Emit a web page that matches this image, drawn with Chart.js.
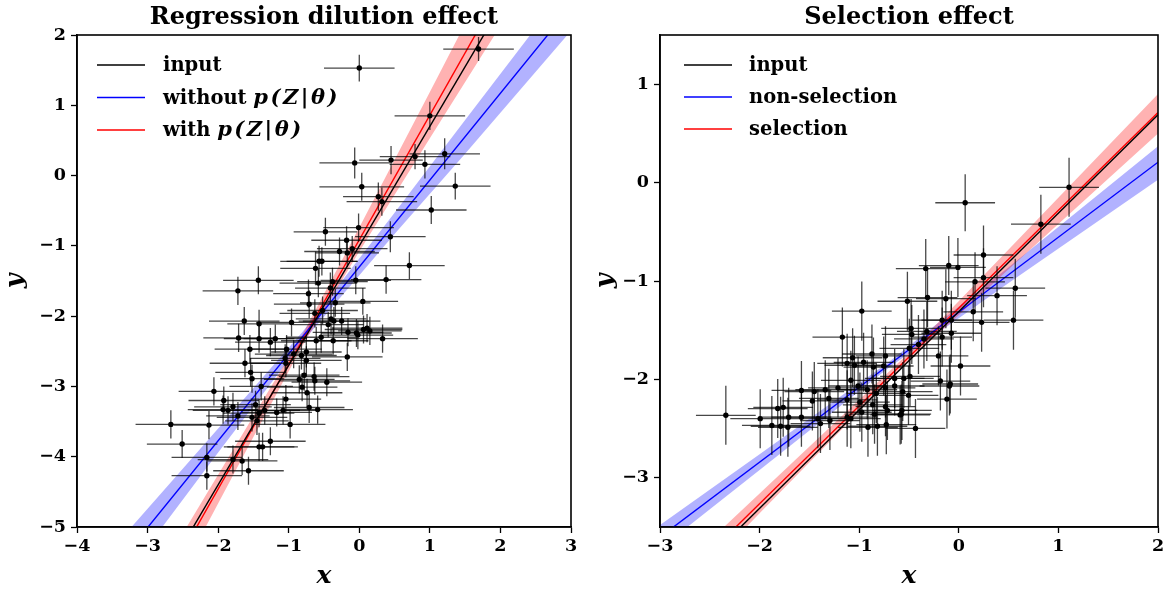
<!DOCTYPE html>
<html><head><meta charset="utf-8">
<script src="https://cdn.jsdelivr.net/npm/chart.js@4/dist/chart.umd.min.js"></script>
<style>
html,body{margin:0;padding:0;background:#fff;}
#wrap{position:relative;width:1168px;height:592px;overflow:hidden;}
canvas{position:absolute;top:0;}
</style></head>
<body><div id="wrap"><canvas id="c1" width="590" height="592" style="left:0"></canvas><canvas id="c2" width="578" height="592" style="left:590px"></canvas></div>
<script>
// ---------- Left panel: Regression dilution effect ----------
const leftTitle = 'Regression dilution effect';
const leftXTicks = [-4, -3, -2, -1, 0, 1, 2, 3];
const leftYTicks = [-5, -4, -3, -2, -1, 0, 1, 2];
const leftX = [1.69, 0.00, 1.00, -0.065, 0.45, 0.79, 0.93, 1.21, 0.035, 0.27,
  0.32, 1.36, 1.02, -0.48, -0.01, 0.44, -0.18, -0.10, -0.28, -0.17,
  -0.53, -0.57, -0.62, 0.71, 0.38, -1.43, -1.72, -0.38, -0.58, -0.41,
  -0.72, -0.05, -0.71, 0.05, -0.34, -0.63, -0.52, -1.63, -1.42, -0.96,
  -0.40, -0.36, -0.25, -0.44, -0.16, -0.04, 0.06, 0.11, 0.15, -1.71,
  -1.42, -1.26, -1.19, -0.54, -0.61, -0.37, -0.02, 0.33, -1.55, -1.03,
  -0.93, -0.75, -1.05, -0.82, -0.17, -1.62, -1.04, -0.75, -1.54, -1.52,
  -0.78, -0.64, -0.85, -0.63, -0.46, -2.06, -1.39, -0.81, -0.74, -1.92,
  -1.04, -1.93, -1.79, -1.47, -0.71, -0.59, -1.86, -1.72, -1.52, -1.42,
  -1.34, -1.17, -1.08, -1.45, -0.98, -2.67, -2.13, -2.51, -1.26, -1.42,
  -1.37, -2.16, -1.79, -1.66, -2.16, -1.57];
const leftY = [1.80, 1.53, 0.85, 0.18, 0.22, 0.27, 0.16, 0.31, -0.16, -0.30,
  -0.37, -0.15, -0.49, -0.80, -0.74, -0.87, -0.92, -1.04, -1.08, -1.10,
  -1.22, -1.22, -1.32, -1.28, -1.48, -1.49, -1.64, -1.51, -1.53, -1.60,
  -1.68, -1.49, -1.83, -1.79, -1.81, -1.96, -1.92, -2.07, -2.11, -2.09,
  -2.04, -2.07, -2.07, -2.12, -2.23, -2.24, -2.19, -2.17, -2.21, -2.31,
  -2.32, -2.37, -2.32, -2.30, -2.35, -2.35, -2.27, -2.32, -2.47, -2.47,
  -2.54, -2.51, -2.60, -2.56, -2.58, -2.67, -2.67, -2.63, -2.80, -2.89,
  -2.84, -2.86, -2.90, -2.92, -2.94, -3.07, -3.00, -3.01, -3.09, -3.20,
  -3.18, -3.33, -3.29, -3.26, -3.30, -3.33, -3.34, -3.42, -3.44, -3.38,
  -3.34, -3.37, -3.34, -3.49, -3.54, -3.54, -3.55, -3.82, -3.78, -3.86,
  -3.86, -4.01, -4.04, -4.06, -4.27, -4.20];
const leftXerr = [0.50, 0.50, 0.50, 0.50, 0.45, 0.50, 0.50, 0.50, 0.60, 0.50,
  0.50, 0.50, 0.50, 0.45, 0.50, 0.50, 0.50, 0.50, 0.50, 0.45,
  0.50, 0.55, 0.50, 0.50, 0.50, 0.50, 0.50, 0.50, 0.55, 0.50,
  0.50, 0.50, 0.50, 0.50, 0.50, 0.50, 0.50, 0.50, 0.45, 0.50,
  0.50, 0.50, 0.55, 0.50, 0.50, 0.50, 0.55, 0.50, 0.45, 0.50,
  0.50, 0.50, 0.45, 0.50, 0.50, 0.50, 0.50, 0.50, 0.50, 0.50,
  0.55, 0.50, 0.50, 0.50, 0.50, 0.50, 0.50, 0.50, 0.50, 0.45,
  0.50, 0.50, 0.50, 0.50, 0.50, 0.50, 0.45, 0.50, 0.50, 0.50,
  0.50, 0.50, 0.55, 0.50, 0.50, 0.50, 0.50, 0.45, 0.50, 0.50,
  0.50, 0.50, 0.50, 0.45, 0.50, 0.50, 0.50, 0.50, 0.50, 0.50,
  0.50, 0.50, 0.50, 0.50, 0.50, 0.50];
const leftYerr = [0.17, 0.19, 0.20, 0.22, 0.20, 0.18, 0.20, 0.22, 0.20, 0.20,
  0.20, 0.19, 0.20, 0.20, 0.20, 0.22, 0.20, 0.18, 0.20, 0.20,
  0.20, 0.22, 0.24, 0.19, 0.20, 0.20, 0.20, 0.20, 0.20, 0.22,
  0.20, 0.20, 0.20, 0.19, 0.20, 0.20, 0.20, 0.20, 0.20, 0.20,
  0.22, 0.20, 0.20, 0.18, 0.20, 0.20, 0.20, 0.20, 0.20, 0.20,
  0.20, 0.20, 0.20, 0.22, 0.20, 0.20, 0.20, 0.20, 0.20, 0.20,
  0.20, 0.22, 0.20, 0.20, 0.20, 0.20, 0.20, 0.20, 0.20, 0.20,
  0.22, 0.20, 0.20, 0.20, 0.20, 0.20, 0.20, 0.20, 0.20, 0.20,
  0.20, 0.20, 0.20, 0.20, 0.22, 0.20, 0.20, 0.20, 0.20, 0.20,
  0.20, 0.20, 0.20, 0.20, 0.20, 0.20, 0.20, 0.20, 0.20, 0.20,
  0.20, 0.20, 0.20, 0.20, 0.20, 0.20];
const leftLineX = [-4, 3];
const leftInputY = [-7.80, 4.10];
const leftWithoutY = [-6.244, 2.408];
const leftWithY = [-8.005, 4.406];
const leftRedBandX = [-3, -2.5, -1.5, -0.8, 0, 1, 2, 3];
const leftRedBandLow = [-6.55, -5.61, -3.72, -2.41, -1.08, 0.53, 2.13, 3.75];
const leftRedBandHigh = [-5.91, -5.09, -3.42, -2.25, -0.74, 1.19, 3.13, 5.07];
const leftBlueBandX = [-4, -3, -2, -0.8, 0.5, 1.5, 3];
const leftBlueBandLow = [-6.60, -5.28, -3.94, -2.36, -0.83, 0.31, 2.06];
const leftBlueBandHigh = [-5.88, -4.74, -3.60, -2.22, -0.53, 0.79, 2.76];
const leftLegend = [
  {color: '#000000', parts: [['input', false]]},
  {color: '#0000ff', parts: [['without ', false], ['p(Z|θ)', true]]},
  {color: '#ff0000', parts: [['with ', false], ['p(Z|θ)', true]]}
];

// ---------- Right panel: Selection effect ----------
const rightTitle = 'Selection effect';
const rightXTicks = [-3, -2, -1, 0, 1, 2];
const rightYTicks = [-3, -2, -1, 0, 1];
const rightX = [1.107, 0.064, 0.824, -0.332, -0.101, -0.009, 0.248, 0.248, 0.163, 0.567,
  0.384, -0.974, -0.516, -0.314, -0.130, 0.145, 0.229, 0.549, -0.167, -0.075,
  -0.479, -0.472, -0.321, -0.405, -0.350, -0.167, -0.075, -1.169, -0.204, 0.017,
  -0.497, -1.066, -0.872, -0.736, -1.121, -1.048, -0.956, -0.857, -0.754, -0.644,
  -0.552, -0.185, -0.094, -0.086, -1.580, -1.451, -1.341, -1.213, -1.084, -1.011,
  -0.919, -0.828, -0.736, -0.644, -0.563, -0.505, -0.119, -1.470, -1.305, -1.121,
  -0.993, -0.864, -0.736, -0.571, -1.818, -1.763, -2.339, -1.994, -1.708, -1.580,
  -1.415, -1.294, -1.121, -0.974, -0.846, -0.717, -0.589, -1.877, -1.789, -1.716,
  -1.389, -1.084, -0.912, -0.817, -0.728, -0.435, -0.578, -0.490];
const rightY = [-0.048, -0.205, -0.423, -0.874, -0.843, -0.862, -0.736, -0.966, -1.008, -1.073,
  -1.149, -1.306, -1.206, -1.168, -1.180, -1.313, -1.420, -1.398, -1.398, -1.398,
  -1.482, -1.543, -1.512, -1.646, -1.589, -1.570, -1.531, -1.570, -1.761, -1.864,
  -1.684, -1.780, -1.742, -1.761, -1.837, -1.856, -1.826, -1.875, -1.864, -1.990,
  -1.990, -2.017, -2.067, -2.047, -2.112, -2.124, -2.105, -2.086, -2.009, -2.067,
  -2.105, -2.143, -2.086, -2.067, -2.124, -2.162, -2.200, -2.219, -2.193, -2.208,
  -2.231, -2.258, -2.277, -2.315, -2.296, -2.284, -2.365, -2.399, -2.384, -2.384,
  -2.399, -2.418, -2.384, -2.334, -2.353, -2.315, -2.361, -2.468, -2.476, -2.487,
  -2.449, -2.399, -2.487, -2.476, -2.460, -2.498, -2.353, -1.970];
const rightXerr = [0.30, 0.30, 0.30, 0.30, 0.30, 0.28, 0.30, 0.30, 0.30, 0.30,
  0.30, 0.30, 0.30, 0.30, 0.30, 0.30, 0.28, 0.30, 0.30, 0.30,
  0.30, 0.30, 0.30, 0.28, 0.30, 0.30, 0.30, 0.30, 0.30, 0.30,
  0.30, 0.30, 0.30, 0.30, 0.30, 0.30, 0.30, 0.30, 0.30, 0.30,
  0.30, 0.30, 0.30, 0.28, 0.30, 0.30, 0.30, 0.30, 0.30, 0.30,
  0.30, 0.30, 0.30, 0.30, 0.30, 0.30, 0.30, 0.30, 0.30, 0.30,
  0.30, 0.30, 0.30, 0.30, 0.30, 0.30, 0.30, 0.30, 0.30, 0.30,
  0.30, 0.30, 0.30, 0.30, 0.30, 0.30, 0.30, 0.30, 0.30, 0.30,
  0.30, 0.30, 0.30, 0.30, 0.30, 0.30, 0.30, 0.30];
const rightYerr = [0.30, 0.29, 0.30, 0.30, 0.30, 0.30, 0.30, 0.30, 0.30, 0.30,
  0.30, 0.30, 0.30, 0.30, 0.30, 0.30, 0.30, 0.30, 0.30, 0.30,
  0.30, 0.30, 0.30, 0.30, 0.30, 0.30, 0.30, 0.30, 0.30, 0.30,
  0.30, 0.30, 0.30, 0.30, 0.30, 0.30, 0.30, 0.30, 0.30, 0.30,
  0.30, 0.30, 0.30, 0.30, 0.30, 0.30, 0.30, 0.30, 0.30, 0.30,
  0.30, 0.30, 0.30, 0.30, 0.30, 0.30, 0.30, 0.30, 0.30, 0.30,
  0.30, 0.30, 0.30, 0.30, 0.30, 0.30, 0.30, 0.30, 0.30, 0.30,
  0.30, 0.30, 0.30, 0.30, 0.30, 0.30, 0.30, 0.30, 0.30, 0.30,
  0.30, 0.30, 0.30, 0.30, 0.30, 0.30, 0.30, 0.30];
const rightLineX = [-3, 2];
const rightInputY = [-4.31, 0.69];
const rightNonSelY = [-3.603, 0.207];
const rightSelY = [-4.257, 0.713];
const rightRedBandX = [-3, -2, -0.5, 0.5, 2];
const rightRedBandLow = [-4.41, -3.36, -1.81, -0.88, 0.50];
const rightRedBandHigh = [-4.11, -3.16, -1.73, -0.68, 0.90];
const rightBlueBandX = [-3, -2, -0.7, 0.5, 2];
const rightBlueBandLow = [-3.72, -2.92, -1.88, -1.02, 0.03];
const rightBlueBandHigh = [-3.48, -2.76, -1.82, -0.86, 0.37];
const rightLegend = [
  {color: '#000000', parts: [['input', false]]},
  {color: '#0000ff', parts: [['non-selection', false]]},
  {color: '#ff0000', parts: [['selection', false]]}
];

// ---------- helpers ----------
const FONT = "'DejaVu Serif', serif";
const zip = (xs, ys) => xs.map((x, i) => ({x: x, y: ys[i]}));
const fmt = v => (v < 0 ? '\u2212' + Math.abs(v) : String(v));

const panelPlugin = {
  id: 'panel',
  beforeDatasetDraw(chart, args, opts) {
    if (args.index !== 0) return;
    const {ctx, chartArea: a, scales: {x, y}} = chart;
    ctx.save();
    ctx.beginPath(); ctx.rect(a.left, a.top, a.right - a.left, a.bottom - a.top); ctx.clip();
    ctx.strokeStyle = 'rgba(0,0,0,0.72)';
    ctx.lineWidth = 1.3;
    opts.px.forEach((vx, i) => {
      const vy = opts.py[i];
      const cx = x.getPixelForValue(vx), cy = y.getPixelForValue(vy);
      ctx.beginPath();
      ctx.moveTo(x.getPixelForValue(vx - opts.ex[i]), cy);
      ctx.lineTo(x.getPixelForValue(vx + opts.ex[i]), cy);
      ctx.moveTo(cx, y.getPixelForValue(vy - opts.ey[i]));
      ctx.lineTo(cx, y.getPixelForValue(vy + opts.ey[i]));
      ctx.stroke();
    });
    ctx.restore();
  },
  afterDraw(chart, args, opts) {
    const {ctx, chartArea: a} = chart;
    ctx.save();
    ctx.strokeStyle = '#000'; ctx.lineWidth = 1.6;
    ctx.strokeRect(a.left, a.top, a.right - a.left, a.bottom - a.top);
    // title
    ctx.fillStyle = '#000';
    ctx.font = 'bold 24px ' + FONT;
    ctx.textAlign = 'center'; ctx.textBaseline = 'middle';
    ctx.fillText(opts.title, (a.left + a.right) / 2, 18);
    // legend
    ctx.textAlign = 'left';
    opts.legend.forEach((item, i) => {
      const yy = a.top + opts.lg.y0 + i * opts.lg.dy;
      ctx.strokeStyle = item.color; ctx.lineWidth = 1.5;
      ctx.beginPath(); ctx.moveTo(a.left + opts.lg.x0, yy); ctx.lineTo(a.left + opts.lg.x1, yy); ctx.stroke();
      let tx = a.left + opts.lg.tx;
      item.parts.forEach(([t, it]) => {
        ctx.font = (it ? 'italic bold 21px ' : 'bold 19.5px ') + FONT;
        ctx.fillStyle = '#000';
        if (it) {
          for (const ch of t) { ctx.fillText(ch, tx, yy + 1); tx += ctx.measureText(ch).width + 2.5; }
        } else {
          ctx.fillText(t, tx, yy + 1);
          tx += ctx.measureText(t).width;
        }
      });
    });
    ctx.restore();
  }
};

function axis(min, max, ticks, title, isX, fitSize) {
  return {
    type: 'linear', min: min, max: max,
    afterBuildTicks: s => { s.ticks = ticks.map(v => ({value: v})); },
    afterFit: s => { if (isX) s.height = fitSize; else s.width = fitSize; },
    ticks: {color: '#000', font: {family: FONT, size: 17.5, weight: 'bold'}, padding: isX ? 3 : 5, callback: v => fmt(v), maxRotation: 0, autoSkip: false},
    grid: {drawOnChartArea: false, drawTicks: true, tickLength: 6, tickWidth: 1.3, tickColor: '#000', color: '#000'},
    border: {display: true, color: '#000', width: 1.6},
    title: {display: true, text: title, color: '#000', font: {family: FONT, size: 25, weight: 'bold', style: 'italic'}, padding: isX ? {top: 0, bottom: 1} : {top: 0, bottom: 3}}
  };
}

function lineDs(xs, ys, color) {
  return {type: 'scatter', data: zip(xs, ys), showLine: true, borderColor: color, borderWidth: 1.4, pointRadius: 0, fill: false};
}
function bandDs(xs, ys, color, fillTarget) {
  return {type: 'scatter', data: zip(xs, ys), showLine: true, borderWidth: 0, borderColor: 'rgba(0,0,0,0)', pointRadius: 0, fill: fillTarget, backgroundColor: color};
}

function build(id, P) {
  new Chart(document.getElementById(id), {
    type: 'scatter',
    data: {datasets: [
      {data: zip(P.px, P.py), pointRadius: 2.7, pointBackgroundColor: '#000', pointBorderWidth: 0, showLine: false},
      lineDs(P.lx, P.inputY, '#000000'),
      lineDs(P.lx, P.blueY, '#0000ff'),
      lineDs(P.lx, P.redY, '#ff0000'),
      bandDs(P.rbx, P.rbh, 'rgba(255,0,0,0.3)', '+1'),
      bandDs(P.rbx, P.rbl, 'rgba(255,0,0,0.3)', false),
      bandDs(P.bbx, P.bbh, 'rgba(0,0,255,0.3)', '+1'),
      bandDs(P.bbx, P.bbl, 'rgba(0,0,255,0.3)', false)
    ]},
    options: {
      responsive: false, animation: false, devicePixelRatio: 1,
      layout: {padding: {top: 35, right: P.padR, left: 0, bottom: 0}},
      plugins: {legend: {display: false}, tooltip: {enabled: false}, title: {display: false},
        panel: {title: P.title, legend: P.legend, lg: P.lg, px: P.px, py: P.py, ex: P.ex, ey: P.ey}},
      scales: {
        x: axis(P.xmin, P.xmax, P.xt, 'x', true, 65),
        y: axis(P.ymin, P.ymax, P.yt, 'y', false, P.yw)
      }
    },
    plugins: [panelPlugin]
  });
}

build('c1', {title: leftTitle, legend: leftLegend, lg: {x0: 20, x1: 68, tx: 86, y0: 30, dy: 32.5},
  px: leftX, py: leftY, ex: leftXerr, ey: leftYerr,
  lx: leftLineX, inputY: leftInputY, blueY: leftWithoutY, redY: leftWithY,
  rbx: leftRedBandX, rbl: leftRedBandLow, rbh: leftRedBandHigh,
  bbx: leftBlueBandX, bbl: leftBlueBandLow, bbh: leftBlueBandHigh,
  xmin: -4, xmax: 3, ymin: -5, ymax: 2, xt: leftXTicks, yt: leftYTicks, padR: 19, yw: 77});

build('c2', {title: rightTitle, legend: rightLegend, lg: {x0: 24, x1: 72, tx: 89, y0: 30, dy: 32},
  px: rightX, py: rightY, ex: rightXerr, ey: rightYerr,
  lx: rightLineX, inputY: rightInputY, blueY: rightNonSelY, redY: rightSelY,
  rbx: rightRedBandX, rbl: rightRedBandLow, rbh: rightRedBandHigh,
  bbx: rightBlueBandX, bbl: rightBlueBandLow, bbh: rightBlueBandHigh,
  xmin: -3, xmax: 2, ymin: -3.5, ymax: 1.5, xt: rightXTicks, yt: rightYTicks, padR: 10, yw: 70});
</script></body></html>
